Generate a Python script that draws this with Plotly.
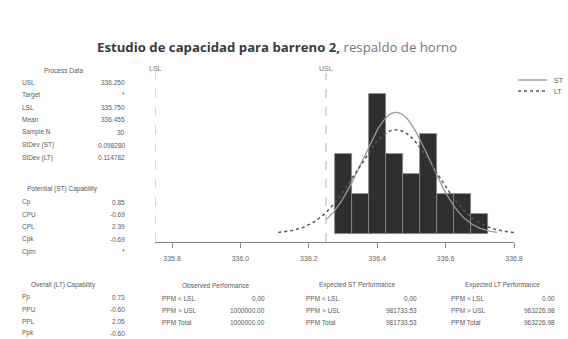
import numpy as np
import plotly.graph_objects as go

# ---------------- data ----------------
bin_centers = [336.30, 336.35, 336.40, 336.45, 336.50, 336.55, 336.60, 336.65, 336.70]
bin_counts = [4, 2, 7, 4, 3, 5, 2, 2, 1]
bin_width = 0.05

usl = 336.250
lsl = 335.750
mean = 336.455
n_samples = 30
sd_st = 0.098280
sd_lt = 0.114782

x_ticks = [335.8, 336.0, 336.2, 336.4, 336.6, 336.8]
x_tick_labels = ["335.8", "336.0", "336.2", "336.4", "336.6", "336.8"]

process_labels = ["USL", "Target", "LSL", "Mean", "Sample N", "StDev (ST)", "StDev (LT)"]
process_values = ["336.250", "*", "335.750", "336.455", "30", "0.098280", "0.114782"]

potential_labels = ["Cp", "CPU", "CPL", "Cpk", "Cpm"]
potential_values = ["0.85", "-0.69", "2.39", "-0.69", "*"]

overall_labels = ["Pp", "PPU", "PPL", "Ppk"]
overall_values = ["0.73", "-0.60", "2.05", "-0.60"]

perf_labels = ["PPM < LSL", "PPM > USL", "PPM Total"]
observed_values = ["0.00", "1000000.00", "1000000.00"]
exp_st_values = ["0.00", "981733.53", "981733.53"]
exp_lt_values = ["0.00", "963226.98", "963226.98"]

legend_names = ["ST", "LT"]

# ---------------- layout geometry ----------------
W, H = 568, 339
L, R, T, B = 155, 54, 73, 97
pw, ph = W - L - R, H - T - B


def px(x):
    return (x - L) / pw


def py(y):
    return (H - B - y) / ph


TXT = "#5a5a5a"
SMALL = dict(family="Liberation Sans, Arial, sans-serif", size=6.5, color=TXT)
ST_LINE = dict(color="#9a9a9a", width=1.3)
LT_LINE = dict(color="#555555", width=1.5, dash="dot")

fig = go.Figure()

fig.add_trace(go.Bar(
    x=bin_centers, y=bin_counts, width=[bin_width] * len(bin_centers),
    marker=dict(color="#2f2f2f", line=dict(color="#8a8a8a", width=0.8)),
    showlegend=False, hoverinfo="skip",
))

scale = n_samples * bin_width
xs_st = np.linspace(usl, mean + 3 * sd_st, 120)
ys_st = scale * np.exp(-0.5 * ((xs_st - mean) / sd_st) ** 2) / (sd_st * np.sqrt(2 * np.pi))
xs_lt = np.linspace(mean - 3 * sd_lt, mean + 3 * sd_lt, 140)
ys_lt = scale * np.exp(-0.5 * ((xs_lt - mean) / sd_lt) ** 2) / (sd_lt * np.sqrt(2 * np.pi))

fig.add_trace(go.Scatter(x=xs_st, y=ys_st, mode="lines", name=legend_names[0],
                         line=ST_LINE, showlegend=False))
fig.add_trace(go.Scatter(x=xs_lt, y=ys_lt, mode="lines", name=legend_names[1],
                         line=LT_LINE, showlegend=False))

for v in (lsl, usl):
    fig.add_shape(type="line", x0=v, x1=v, y0=0, y1=1, xref="x", yref="paper",
                  line=dict(color="#b5b5b5", width=1, dash="dash"))
fig.add_annotation(x=lsl, y=py(63), xref="x", yref="paper", text="LSL",
                   showarrow=False, font=dict(SMALL, size=7, color="#777"))
fig.add_annotation(x=usl, y=py(63), xref="x", yref="paper", text="USL",
                   showarrow=False, font=dict(SMALL, size=7, color="#777"))


def label(x, y, text, anchor="left", size=6.5):
    fig.add_annotation(x=px(x), y=py(y), xref="paper", yref="paper", text=text,
                       showarrow=False, xanchor=anchor, yanchor="middle",
                       font=dict(SMALL, size=size))


# legend (drawn manually for compact spacing)
for i, (name, style) in enumerate(zip(legend_names, [ST_LINE, LT_LINE])):
    yy = 80 + i * 11
    fig.add_shape(type="line", xref="paper", yref="paper",
                  x0=px(518), x1=px(547), y0=py(yy), y1=py(yy), line=style)
    label(552, yy, name, size=7)

# left panel
label(63, 71, "Process Data", "center")
for i, (a, b) in enumerate(zip(process_labels, process_values)):
    yy = 82 + i * 12.6
    label(20, yy, a)
    label(127, yy, b, "right")

label(62, 189, "Potential (ST) Capability", "center")
for i, (a, b) in enumerate(zip(potential_labels, potential_values)):
    yy = 202 + i * 12.4
    label(20, yy, a)
    label(127, yy, b, "right")

label(63, 285, "Overall (LT) Capability", "center")
for i, (a, b) in enumerate(zip(overall_labels, overall_values)):
    yy = 297 + i * 12
    label(20, yy, a)
    label(127, yy, b, "right")

# bottom tables
tables = [
    ("Observed Performance", 216, 160, 267, observed_values),
    ("Expected ST Performance", 357, 304, 419, exp_st_values),
    ("Expected LT Performance", 502, 449, 557, exp_lt_values),
]
for head, cx, lx, rx, vals in tables:
    label(cx, 285, head, "center")
    for i, (a, b) in enumerate(zip(perf_labels, vals)):
        yy = 298 + i * 12.3
        label(lx, yy, a)
        label(rx, yy, b, "right")

# title
fig.add_annotation(x=px(277), y=py(47), xref="paper", yref="paper",
                   text="<b>Estudio de capacidad para barreno 2,</b> <span style='color:#777'>respaldo de horno</span>",
                   showarrow=False, xanchor="center", yanchor="middle",
                   font=dict(family="Open Sans, sans-serif", size=13.2, color="#3a3a3a"))

fig.update_layout(
    width=W, height=H, margin=dict(l=L, r=R, t=T, b=B, autoexpand=False),
    paper_bgcolor="white", plot_bgcolor="white", bargap=0,
    showlegend=False,
    xaxis=dict(range=[335.75, 336.80], tickvals=x_ticks, ticktext=x_tick_labels,
               showgrid=False, zeroline=False, showline=True, linecolor="#8a8a8a",
               linewidth=1, ticks="outside", ticklen=5, tickcolor="#8a8a8a",
               ticklabelstandoff=5,
               tickfont=dict(SMALL, size=7, color="#666")),
    yaxis=dict(range=[-0.42, 8.06], visible=False, showgrid=False, zeroline=False),
)

fig.write_html("out.html")
